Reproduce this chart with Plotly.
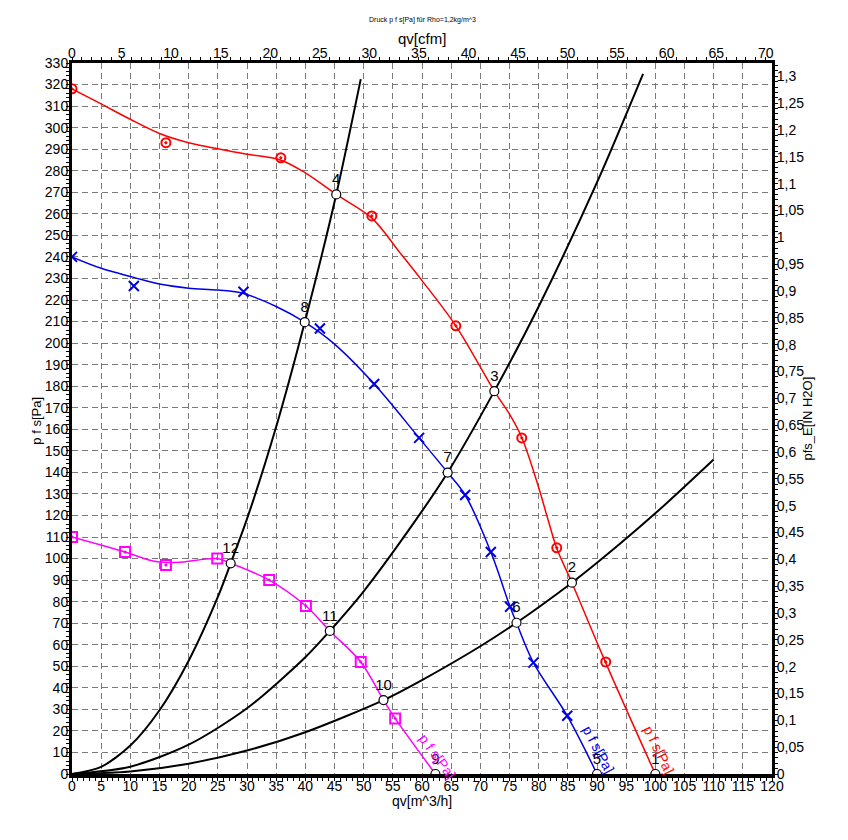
import plotly.graph_objects as go

# fan curves, qv in m^3/h, static pressure in Pa
red_x = [0, 5, 9.9, 15, 20, 25.4, 30, 35.7, 40, 45.3, 51.4, 56.2, 60, 65.8, 72.4, 75, 77.1, 80, 81.5, 83.1, 85.7, 91.5, 100]
red_y = [318, 311, 304, 297.3, 293, 290, 287.7, 285, 279, 269, 258, 242, 229, 208, 177.7, 167, 156.2, 133, 119, 104.8, 88.8, 51.6, 0]
red_mx = [0, 16.1, 35.8, 51.4, 65.8, 77.1, 83.1, 91.5]
red_my = [318, 293, 286, 259, 208, 156, 105, 52]

blue_x = [0, 5, 10.6, 15, 20, 25, 29.4, 35, 39.9, 45, 51.8, 59.5, 64.4, 67.4, 71.8, 75.1, 76.2, 79.1, 84.9, 90]
blue_y = [240, 234.7, 230.5, 227.4, 225.5, 224.6, 223, 217, 209.7, 199.5, 181, 156, 139.9, 129.5, 103, 77.6, 70.2, 51.7, 27, 0]
blue_mx = [0, 10.6, 29.4, 42.5, 51.8, 59.5, 67.4, 71.8, 75.1, 79.1, 84.9]
blue_my = [240, 226.5, 223.8, 206.8, 181, 156, 129.5, 103, 77.6, 51.7, 27]

mag_x = [0, 9.1, 13.9, 17.9, 24.9, 27.2, 33.8, 40.1, 44.2, 49.5, 53.4, 55.4, 62.3]
mag_y = [110, 103, 98.9, 98.2, 100, 97.8, 90, 78, 66.4, 52, 34.3, 25.8, 0]
mag_mx = [0, 9.1, 16.1, 24.9, 33.8, 40.1, 49.5, 55.4]
mag_my = [110, 103, 97, 100, 90, 78, 52, 25.8]

# system curves
sysA_x = [0, 5, 10, 15, 20, 25, 27.2, 30, 35, 39.9, 45.3, 49.5]
sysA_y = [0, 3.3, 13.2, 29.6, 52.6, 82.2, 97.8, 118.4, 161.2, 209.7, 269, 322.5]
sysB_x = [0, 10, 20, 30, 40, 44.2, 50, 60, 64.4, 72.4, 80, 90, 97.9]
sysB_y = [0, 3.4, 13.6, 30.5, 54.2, 66.4, 84.8, 122, 139.9, 177.7, 217, 274.6, 325]
sysC_x = [0, 10, 20, 30, 40, 53.4, 60, 70, 76.2, 85.7, 90, 100, 110]
sysC_y = [0, 1.2, 4.8, 10.9, 19.4, 34.3, 43.6, 59.3, 70.2, 88.8, 98, 121, 146]

# operating points
op_x = [100, 85.7, 72.4, 45.3, 90, 76.2, 64.4, 39.9, 62.3, 53.4, 44.2, 27.2]
op_y = [0, 88.8, 177.7, 269, 0, 70.2, 139.9, 209.7, 0, 34.3, 66.4, 97.8]
op_labels = ["1", "2", "3", "4", "5", "6", "7", "8", "9", "10", "11", "12"]

X_MAX = 120
Y_MAX = 330
M3H_PER_CFM = 1.699011
PA_PER_INH2O = 249.0889

FONT = "Liberation Sans, Arial, sans-serif"
RED = "#ff0000"
BLUE = "#0000e6"
MAG = "#ff00ff"

fig = go.Figure()

for sx, sy in [(sysA_x, sysA_y), (sysB_x, sysB_y), (sysC_x, sysC_y)]:
    fig.add_trace(go.Scatter(x=sx, y=sy, mode="lines", line=dict(color="black", width=2, shape="spline", smoothing=0.8),
                             hoverinfo="skip", showlegend=False))

for lx, ly, mx, my, col, sym, ms in [
    (red_x, red_y, red_mx, red_my, RED, "circle-open-dot", 9),
    (blue_x, blue_y, blue_mx, blue_my, BLUE, "x-thin-open", 10),
    (mag_x, mag_y, mag_mx, mag_my, MAG, "square-open-dot", 10),
]:
    fig.add_trace(go.Scatter(x=lx, y=ly, mode="lines", line=dict(color=col, width=1.5, shape="spline", smoothing=1.0),
                             showlegend=False))
    fig.add_trace(go.Scatter(x=mx, y=my, mode="markers",
                             marker=dict(symbol=sym, size=ms, color=col, line=dict(color=col, width=2)),
                             showlegend=False))

fig.add_trace(go.Scatter(
    x=op_x, y=op_y, mode="markers+text", text=op_labels, textposition="top center",
    textfont=dict(family=FONT, size=15, color="black"),
    marker=dict(symbol="circle", size=9, color="white", line=dict(color="black", width=1.2)),
    showlegend=False))

# invisible copies so the cfm and inch H2O axes get drawn
fig.add_trace(go.Scatter(x=[v / M3H_PER_CFM for v in red_x], y=red_y, xaxis="x2", yaxis="y",
                         mode="lines", line=dict(width=0), opacity=0, hoverinfo="skip", showlegend=False))
fig.add_trace(go.Scatter(x=red_x, y=[v / PA_PER_INH2O for v in red_y], xaxis="x", yaxis="y2",
                         mode="lines", line=dict(width=0), opacity=0, hoverinfo="skip", showlegend=False))

# curve name labels along the curves
for tx, ty, col, ang in [(62.6, 8.4, MAG, 54), (90.2, 11.6, BLUE, 62), (100.6, 11.1, RED, 64)]:
    fig.add_annotation(x=tx, y=ty, text="p f s[Pa]", showarrow=False, textangle=ang,
                       font=dict(family=FONT, size=14, color=col))

tickfont = dict(family=FONT, size=14, color="black")
grid = dict(showgrid=True, gridcolor="#7a7a7a", griddash="6px,4px", gridwidth=1.3)

fig.update_layout(
    width=848, height=840,
    margin=dict(l=64, r=84, t=55, b=74),
    paper_bgcolor="white", plot_bgcolor="white",
    separators=",.",
    font=dict(family=FONT, color="black"),
    xaxis=dict(range=[0, X_MAX], dtick=5, tick0=0, showline=True, linecolor="black", linewidth=4,
               ticks="outside", ticklen=3, tickcolor="black", tickfont=tickfont, zeroline=False,
               ticklabelstandoff=-7,
               minor=dict(dtick=1, ticks="outside", ticklen=3, tickcolor="black", showgrid=False),
               **grid),
    yaxis=dict(range=[0, Y_MAX], dtick=10, tick0=0, showline=True, linecolor="black", linewidth=3,
               ticks="outside", ticklen=3, tickcolor="black", tickfont=tickfont, zeroline=False,
               ticklabelstandoff=-5,
               minor=dict(dtick=2, ticks="outside", ticklen=3, tickcolor="black", showgrid=False),
               **grid),
    xaxis2=dict(range=[0, X_MAX / M3H_PER_CFM], dtick=5, tick0=0, overlaying="x", side="top", anchor="y",
                showline=True, linecolor="black", linewidth=3, showgrid=False, zeroline=False,
                ticks="outside", ticklen=3, tickcolor="black", tickfont=tickfont, ticklabelstandoff=-7,
                minor=dict(dtick=1, ticks="outside", ticklen=3, tickcolor="black")),
    yaxis2=dict(range=[0, Y_MAX / PA_PER_INH2O], dtick=0.05, tick0=0, overlaying="y", side="right", anchor="x",
                showline=True, linecolor="black", linewidth=3, showgrid=False, zeroline=False,
                ticks="outside", ticklen=3, tickcolor="black", tickfont=tickfont, ticklabelstandoff=-4,
                minor=dict(dtick=0.01, ticks="outside", ticklen=3, tickcolor="black")),
)

# titles placed as annotations
titles = [
    ("Druck p f s[Pa] für Rho=1,2kg/m^3", 0.5, 1.0605, 0, 7),
    ("qv[cfm]", 0.5, 1.034, 0, 15),
    ("qv[m^3/h]", 0.5, -0.038, 0, 14),
    ("p f s[Pa]", -0.05, 0.497, -90, 13),
    ("pfs_E[IN H2O]", 1.0514, 0.5, -90, 13),
]
for txt, px, py, ang, fs in titles:
    fig.add_annotation(text=txt, xref="paper", yref="paper", x=px, y=py, textangle=ang,
                       xanchor="center", yanchor="middle", showarrow=False,
                       font=dict(family=FONT, size=fs, color="black"))

fig.write_html("out.html")
